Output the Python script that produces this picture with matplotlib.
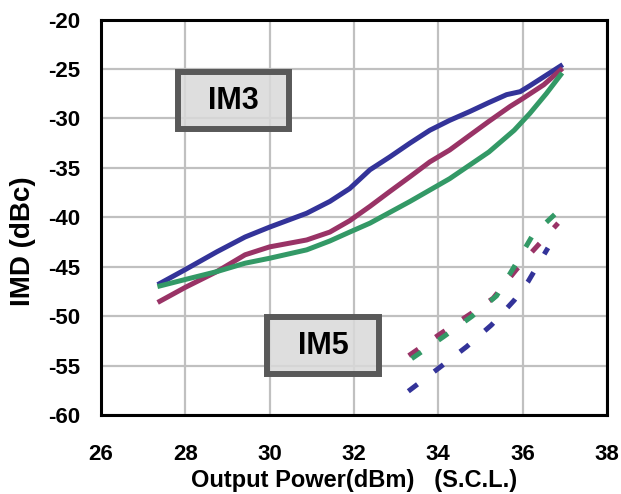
import matplotlib
matplotlib.use("Agg")
import matplotlib.pyplot as plt
from matplotlib.patches import Rectangle

plt.rcParams['font.family'] = ['Liberation Sans', 'DejaVu Sans']
plt.rcParams['font.weight'] = 'bold'
plt.rcParams['axes.unicode_minus'] = False

# IM3 (solid)
im3_blue_x = [27.4, 28.0, 28.75, 29.42, 30.0, 30.88, 31.43, 31.9, 32.38, 32.85, 33.33, 33.8, 34.27, 34.75, 35.2, 35.62, 35.94, 36.17, 36.9]
im3_blue_y = [-46.7, -45.3, -43.5, -42.0, -41.0, -39.6, -38.4, -37.1, -35.2, -33.9, -32.5, -31.2, -30.2, -29.3, -28.4, -27.6, -27.3, -26.7, -24.7]
im3_mag_x = [27.4, 28.0, 28.75, 29.42, 30.0, 30.88, 31.43, 31.9, 32.38, 32.85, 33.33, 33.8, 34.27, 34.75, 35.2, 35.7, 36.0, 36.5, 36.9]
im3_mag_y = [-48.5, -47.1, -45.5, -43.8, -43.0, -42.3, -41.5, -40.35, -38.9, -37.4, -35.9, -34.4, -33.2, -31.7, -30.3, -28.8, -28.0, -26.6, -25.1]
im3_grn_x = [27.4, 28.0, 28.75, 29.42, 30.0, 30.88, 31.43, 31.9, 32.38, 33.33, 34.27, 35.2, 35.8, 36.17, 36.56, 36.9]
im3_grn_y = [-46.95, -46.3, -45.5, -44.65, -44.15, -43.3, -42.4, -41.5, -40.6, -38.4, -36.1, -33.4, -31.2, -29.5, -27.5, -25.6]

# IM5 (dashed)
im5_blue_x = [33.29, 34.0, 34.67, 35.26, 35.8, 36.13, 36.6]
im5_blue_y = [-57.6, -55.3, -53.1, -50.9, -48.4, -46.5, -43.1]
im5_mag_x = [33.3, 34.08, 34.79, 35.3, 35.85, 36.2, 36.84]
im5_mag_y = [-54.0, -51.7, -49.7, -48.2, -45.3, -43.6, -40.6]
im5_grn_x = [33.37, 34.12, 34.79, 35.38, 35.8, 36.24, 36.84]
im5_grn_y = [-54.3, -52.1, -50.05, -47.96, -45.0, -41.8, -39.4]

x_ticks = [26, 28, 30, 32, 34, 36, 38]
y_ticks = [-60, -55, -50, -45, -40, -35, -30, -25, -20]

c_blue = '#333399'
c_mag = '#993366'
c_grn = '#339966'

fig = plt.figure(figsize=(6.21, 4.94), dpi=100)
ax = fig.add_axes([0.1623, 0.16, 0.8152, 0.8005])

ax.set_xlim(26, 38)
ax.set_ylim(-60, -20)
ax.set_xticks(x_ticks)
ax.set_yticks(y_ticks)
ax.grid(True, color='#c0c0c0', linewidth=1.6, zorder=0)
ax.set_axisbelow(True)

lw = 3.6
ax.plot(im3_blue_x, im3_blue_y, color=c_blue, lw=lw, zorder=3)
ax.plot(im3_mag_x, im3_mag_y, color=c_mag, lw=lw, zorder=3)
ax.plot(im3_grn_x, im3_grn_y, color=c_grn, lw=lw, zorder=3)

dash = (2.3, 4.2)
ax.plot(im5_blue_x, im5_blue_y, color=c_blue, lw=lw, dashes=dash, zorder=3)
ax.plot(im5_mag_x, im5_mag_y, color=c_mag, lw=lw, dashes=dash, zorder=3)
ax.plot(im5_grn_x, im5_grn_y, color=c_grn, lw=lw, dashes=dash, zorder=3)

# label boxes
for (x0, x1, y0, y1, label) in [(27.83, 30.45, -31.1, -25.3, 'IM3'), (29.95, 32.6, -55.9, -50.1, 'IM5')]:
    ax.add_patch(Rectangle((x0, y0), x1 - x0, y1 - y0, facecolor='#d9d9d9', alpha=0.85,
                           edgecolor='none', zorder=1))
    ax.add_patch(Rectangle((x0, y0), x1 - x0, y1 - y0, facecolor='none',
                           edgecolor='#595959', linewidth=4.3, zorder=2))
    ax.text((x0 + x1) / 2, (y0 + y1) / 2, label, ha='center', va='center',
            fontsize=22, fontweight='bold', color='black', zorder=4)

for s in ax.spines.values():
    s.set_linewidth(2.2)
    s.set_color('black')

ax.tick_params(axis='both', length=0, labelsize=16)
ax.tick_params(axis='y', pad=14.5)
ax.tick_params(axis='x', pad=21)
for lab in ax.get_xticklabels() + ax.get_yticklabels():
    lab.set_fontweight('bold')

ax.set_xlabel('Output Power(dBm)   (S.C.L.)', fontsize=17, fontweight='bold', labelpad=3)
ax.set_ylabel('IMD (dBc)', fontsize=20, fontweight='bold')
ax.yaxis.set_label_coords(-0.128, 0.44)

fig.savefig('out.png', dpi=100)
